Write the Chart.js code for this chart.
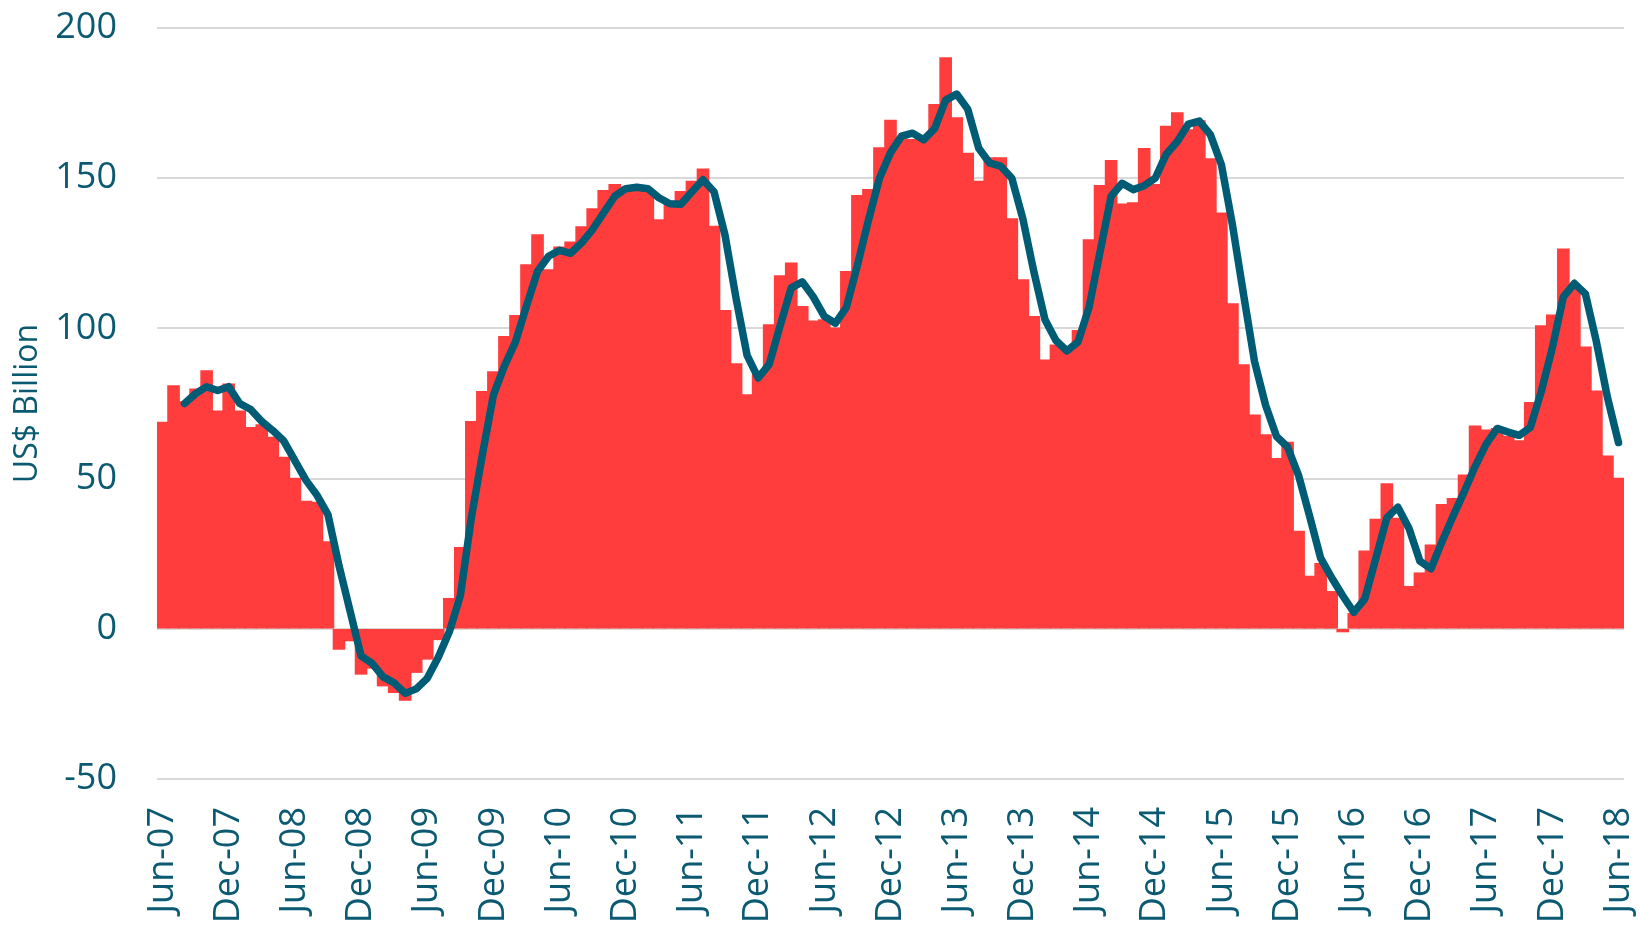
<!DOCTYPE html>
<html>
<head>
<meta charset="utf-8">
<script src="https://cdn.jsdelivr.net/npm/chart.js@4/dist/chart.umd.min.js"></script>
<style>
  html, body { margin: 0; padding: 0; background: #ffffff; }
  #wrap { width: 1639px; height: 926px; }
</style>
</head>
<body>
<div id="wrap"><canvas id="myChart" width="1639" height="926"></canvas></div>
<script>
    // months Jun-07 .. Jun-18, one bar per month
    var monthNames = ['Jan', 'Feb', 'Mar', 'Apr', 'May', 'Jun', 'Jul', 'Aug', 'Sep', 'Oct', 'Nov', 'Dec'];
    var startYear = 2007, startMonth = 5, monthCount = 133;

    // tick labels shown on the x axis (every 6 months)
    var tickLabels = ['Jun-07', 'Dec-07', 'Jun-08', 'Dec-08', 'Jun-09', 'Dec-09', 'Jun-10', 'Dec-10',
        'Jun-11', 'Dec-11', 'Jun-12', 'Dec-12', 'Jun-13', 'Dec-13', 'Jun-14', 'Dec-14',
        'Jun-15', 'Dec-15', 'Jun-16', 'Dec-16', 'Jun-17', 'Dec-17', 'Jun-18'];

    var yTicks = [-50, 0, 50, 100, 150, 200];

    // monthly values, US$ billion
    var monthly = [
        68.7, 80.8, 75.5, 79.7, 85.8, 72.4, 81.4, 72.4, 66.9, 67.8, 63.7, 57,
        50, 42.4, 42, 28.9, -6.7, -3.9, -15, -13, -18.9, -21.1, -23.7, -14.4,
        -10, -3.5, 10, 27, 68.9, 78.9, 85.5, 97.2, 104.2, 121.1, 131.1, 119.4,
        127, 128.7, 133.7, 139.7, 145.8, 147.8, 147, 147, 146, 136.1, 142.2, 145.5,
        148.9, 153, 133.9, 105.9, 88.1, 77.8, 84.5, 101.1, 117.4, 121.7, 107.2, 102.4,
        102.8, 100, 118.8, 144.1, 146.1, 160, 169.2, 163, 162.8, 162.6, 174.4, 190,
        170, 158.2, 148.9, 156.7, 156.7, 136.4, 116.1, 103.9, 89.4, 94.4, 93, 99.2,
        129.4, 147.5, 155.8, 141.3, 141.7, 159.8, 147.8, 167.2, 171.7, 166, 169, 156.4,
        138.3, 108.1, 87.8, 71.1, 64.5, 56.6, 62, 32.4, 17.4, 21.6, 12.3, -0.9,
        5, 25.8, 36.4, 48.2, 36.7, 14, 18.5, 27.8, 41.3, 43.3, 51.1, 67.4,
        66.1, 66.6, 64, 62.5, 75.2, 100.8, 104.4, 126.3, 114, 93.7, 79.1, 57.4,
        50
    ];

    // smoothed line (3-month average), starts in Aug-07
    var average = [
        null, null, 75, 78.3, 80.6, 79.3, 80.6, 75, 73, 69, 66, 62.5,
        56, 49.5, 44.5, 38, 21, 6, -9, -11.5, -16, -18, -21.5, -20,
        -16.5, -9.5, -1, 11, 37, 58, 77.8, 87.5, 95.5, 107.5, 119, 124,
        126, 125, 128.5, 133, 138.5, 144, 146.5, 147, 146.5, 143.5, 141.5, 141.3,
        145.5, 149.5, 145.5, 131, 110, 91, 83.5, 88, 101, 113.5, 115.5, 110.5,
        104, 101.7, 107, 121, 136, 150, 158.5, 164, 165, 162.8, 166.5, 176,
        178, 173, 160, 155, 154, 150, 136.5, 118.8, 103, 96, 92.5, 95.5,
        107, 125.5, 144, 148.3, 146.2, 147.5, 150, 158, 162.2, 168, 169, 164.5,
        154.5, 134.5, 111.5, 89, 74.5, 64, 60.5, 51, 37.5, 23.5, 17, 11,
        5.5, 10, 23.5, 37, 40.5, 33.5, 22.5, 20, 29, 37.5, 45.5, 54,
        61.5, 66.7, 65.5, 64.4, 67, 79, 93.5, 110.5, 115, 111.5, 95.5, 77,
        62
    ];

    var textColor = '#0b5a72';
    var fontFamily = '"Open Sans", "DejaVu Sans", sans-serif';

    function buildCategories() {
        var out = [];
        for (var i = 0; i < monthCount; i++) {
            var m = (startMonth + i) % 12;
            var y = startYear + Math.floor((startMonth + i) / 12);
            out.push(monthNames[m] + '-' + String(y % 100).padStart(2, '0'));
        }
        return out;
    }

    function loadChart() {
        var ctx = document.getElementById('myChart').getContext('2d');
        var categories = buildCategories();

        var data = {
            labels: categories,
            datasets: [
                {
                    type: 'line',
                    label: '3-month average',
                    data: average,
                    borderColor: '#005b74',
                    borderWidth: 7.5,
                    pointRadius: 0,
                    tension: 0,
                    fill: false,
                    spanGaps: false,
                    borderJoinStyle: 'round',
                    borderCapStyle: 'round',
                    order: 0
                },
                {
                    type: 'bar',
                    label: 'Monthly',
                    data: monthly,
                    backgroundColor: '#ff3d3d',
                    borderWidth: 0,
                    inflateAmount: 0.8,
                    barPercentage: 1,
                    categoryPercentage: 1,
                    order: 1
                }
            ]
        };

        var options = {
            responsive: false,
            animation: false,
            layout: {
                padding: { top: 0, right: 15, bottom: 0, left: 0 }
            },
            scales: {
                x: {
                    grid: { display: false, drawTicks: false },
                    border: { display: false },
                    ticks: {
                        autoSkip: false,
                        maxRotation: 90,
                        minRotation: 90,
                        padding: 28,
                        color: textColor,
                        font: { family: fontFamily, size: 36 },
                        callback: function(value) {
                            var lab = this.getLabelForValue(value);
                            return tickLabels.indexOf(lab) >= 0 ? lab : '';
                        }
                    },
                    afterFit: function(scale) {
                        scale.height = 147;
                        scale.paddingLeft = 0;
                        scale.paddingRight = 0;
                    }
                },
                y: {
                    min: yTicks[0],
                    max: yTicks[yTicks.length - 1],
                    afterBuildTicks: function(scale) {
                        scale.ticks = yTicks.map(function(v) { return { value: v }; });
                    },
                    grid: {
                        color: '#d9d9d9',
                        lineWidth: 2,
                        drawTicks: false
                    },
                    border: { display: false },
                    ticks: {
                        padding: 40,
                        color: textColor,
                        font: { family: fontFamily, size: 36 }
                    },
                    title: {
                        display: true,
                        text: 'US$ Billion',
                        color: textColor,
                        font: { family: fontFamily, size: 32 },
                        padding: { top: 9, bottom: 0 }
                    },
                    afterFit: function(scale) {
                        scale.width = 157;
                        scale.paddingTop = 28;
                        scale.paddingBottom = 0;
                    }
                }
            },
            plugins: {
                legend: { display: false },
                tooltip: { enabled: false }
            }
        };

        var myChart = new Chart(ctx, {
            data: data,
            options: options
        });
    }

    loadChart();
</script>
</body>
</html>
